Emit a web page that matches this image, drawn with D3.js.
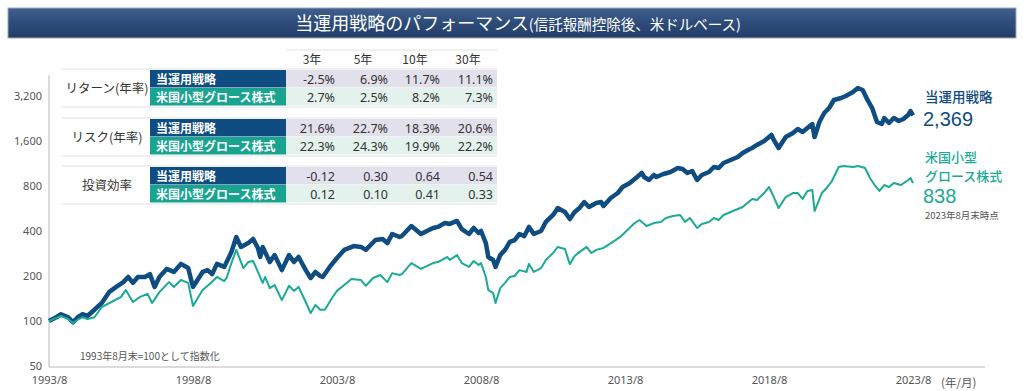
<!DOCTYPE html>
<html><head><meta charset="utf-8">
<script src="https://cdn.jsdelivr.net/npm/d3@7/dist/d3.min.js"></script>
<style>
html,body{margin:0;padding:0;background:#fff;}
svg{display:block;font-family:"Noto Sans CJK JP","Noto Sans",sans-serif;}
</style></head>
<body><svg id="c" width="1024" height="391"></svg>
<script>
// ---------- DATA ----------
const stratDates = ["1993-08","1993-11","1994-01","1994-04","1994-06","1994-08","1994-10","1994-12","1995-03","1995-06","1995-09","1995-12","1996-03","1996-05","1996-07","1996-09","1996-12","1997-02","1997-04","1997-06","1997-09","1997-12","1998-03","1998-06","1998-08","1998-12","1999-02","1999-04","1999-06","1999-09","1999-12","2000-02","2000-04","2000-07","2000-09","2000-11","2000-12","2001-01","2001-04","2001-06","2001-09","2001-12","2002-02","2002-04","2002-07","2002-09","2002-11","2003-01","2003-02","2003-05","2003-08","2003-11","2004-03","2004-06","2004-08","2004-12","2005-03","2005-05","2005-07","2005-10","2005-11","2006-03","2006-07","2006-12","2007-02","2007-05","2007-07","2007-10","2007-12","2008-03","2008-05","2008-07","2008-08","2008-10","2008-11","2009-01","2009-02","2009-04","2009-06","2009-08","2009-10","2009-12","2010-02","2010-04","2010-06","2010-09","2010-11","2011-02","2011-04","2011-07","2011-09","2011-11","2012-01","2012-03","2012-05","2012-08","2012-10","2012-11","2013-02","2013-05","2013-07","2013-10","2014-01","2014-03","2014-04","2014-06","2014-08","2014-09","2014-12","2015-03","2015-06","2015-08","2015-10","2015-12","2016-02","2016-04","2016-07","2016-09","2016-11","2017-01","2017-04","2017-07","2017-09","2017-12","2018-01","2018-03","2018-06","2018-09","2018-10","2018-12","2019-03","2019-06","2019-08","2019-10","2019-12","2020-02","2020-03","2020-05","2020-07","2020-09","2020-11","2021-02","2021-04","2021-07","2021-09","2021-11","2022-01","2022-03","2022-05","2022-07","2022-08","2022-10","2022-12","2023-02","2023-04","2023-06","2023-07","2023-08"];
const stratValues = [100,106,111,106,98,106,111,108,119,132,156,169,182,197,180,197,197,206,169,197,223,213,241,226,169,213,219,206,241,230,289,365,313,332,354,308,268,313,248,276,219,276,248,268,219,194,213,200,197,230,264,299,317,313,299,348,354,332,382,365,370,432,382,419,426,452,446,467,412,382,419,388,400,332,268,256,230,276,299,338,348,382,370,426,382,400,460,512,570,536,481,536,570,625,579,616,625,588,665,718,788,838,919,978,919,878,948,919,962,993,1056,1039,978,1008,878,948,993,1072,1056,1140,1194,1250,1330,1414,1437,1505,1600,1755,1625,1437,1702,1810,1925,1838,1955,2078,1702,2144,2462,2659,3010,3104,3200,3404,3619,3510,3010,2659,2144,2078,2280,2112,2280,2178,2245,2389,2540,2369];

const benchDates = ["1993-08","1993-11","1994-01","1994-04","1994-06","1994-08","1994-10","1994-12","1995-03","1995-06","1995-10","1996-02","1996-04","1996-07","1996-10","1997-01","1997-03","1997-06","1997-10","1997-12","1998-03","1998-06","1998-08","1998-12","1999-03","1999-06","1999-09","1999-10","1999-12","2000-02","2000-04","2000-05","2000-07","2000-09","2000-11","2001-01","2001-02","2001-04","2001-06","2001-09","2001-12","2002-02","2002-04","2002-07","2002-09","2002-11","2003-01","2003-03","2003-06","2003-08","2003-11","2004-02","2004-06","2004-08","2004-11","2005-02","2005-05","2005-07","2005-10","2005-11","2006-03","2006-07","2006-12","2007-02","2007-06","2007-07","2007-10","2007-12","2008-03","2008-05","2008-07","2008-08","2008-10","2008-11","2009-01","2009-02","2009-04","2009-06","2009-08","2009-10","2009-12","2010-03","2010-04","2010-06","2010-09","2010-11","2011-02","2011-04","2011-07","2011-09","2011-11","2012-01","2012-04","2012-06","2012-08","2012-11","2013-03","2013-06","2013-09","2013-12","2014-02","2014-05","2014-08","2014-11","2015-01","2015-04","2015-07","2015-09","2015-11","2016-02","2016-04","2016-07","2016-09","2016-11","2017-01","2017-04","2017-07","2017-09","2017-12","2018-01","2018-03","2018-06","2018-08","2018-10","2018-12","2019-03","2019-06","2019-08","2019-10","2019-12","2020-02","2020-03","2020-06","2020-08","2020-10","2021-01","2021-03","2021-07","2021-09","2021-12","2022-02","2022-04","2022-06","2022-08","2022-10","2022-12","2023-03","2023-06","2023-07","2023-08"];
const benchValues = [100,105,108,103,97,102,106,103,106,124,134,145,161,134,145,152,132,156,182,169,188,180,126,161,177,197,185,194,244,299,248,226,248,252,213,180,197,166,174,138,172,159,169,134,113,128,119,119,143,159,174,191,188,172,194,203,182,209,203,206,244,223,244,248,268,256,276,244,230,252,237,244,197,161,154,132,166,180,197,200,219,213,241,213,226,256,285,313,303,240,272,289,313,285,299,308,338,365,406,452,474,432,452,460,489,504,512,460,489,419,446,460,489,474,512,536,561,579,635,655,645,718,788,675,570,675,718,718,655,741,752,544,718,776,851,1072,1089,1072,1089,1056,905,812,741,812,788,838,812,878,905,838];

const yTicks = [50,100,200,400,800,1600,3200];
const xTickDates = ["1993-08","1998-08","2003-08","2008-08","2013-08","2018-08","2023-08"];
const xTickLabels = ["1993/8","1998/8","2003/8","2008/8","2013/8","2018/8","2023/8"];

const tableCols = ["3年","5年","10年","30年"];
const tableGroups = ["リターン(年率)","リスク(年率)","投資効率"];
const seriesNames = ["当運用戦略","米国小型グロース株式"];
const returnStrat = ["-2.5%","6.9%","11.7%","11.1%"];
const returnBench = ["2.7%","2.5%","8.2%","7.3%"];
const riskStrat = ["21.6%","22.7%","18.3%","20.6%"];
const riskBench = ["22.3%","24.3%","19.9%","22.2%"];
const effStrat = ["-0.12","0.30","0.64","0.54"];
const effBench = ["0.12","0.10","0.41","0.33"];

const endStrat = "2,369";
const endBench = "838";

// ---------- CHART ----------
const svg = d3.select("#c");
const C_DARK = "#0f4c81", C_TEAL = "#1aaa95";
const parse = d3.timeParse("%Y-%m");

// title bar
const defs = svg.append("defs");
const g1 = defs.append("linearGradient").attr("id","tg").attr("x1",0).attr("y1",0).attr("x2",0).attr("y2",1);
g1.append("stop").attr("offset","0%").attr("stop-color","#3f5f8e");
g1.append("stop").attr("offset","50%").attr("stop-color","#2e4c7a");
g1.append("stop").attr("offset","100%").attr("stop-color","#223d66");
svg.append("rect").attr("x",8).attr("y",8).attr("width",1008).attr("height",30)
  .attr("fill","url(#tg)").attr("stroke","#9aa8bd").attr("stroke-width",1);
const tt = svg.append("text").attr("x",518).attr("y",30).attr("text-anchor","middle").attr("fill","#fff");
tt.append("tspan").attr("font-size",18).text("当運用戦略のパフォーマンス");
tt.append("tspan").attr("font-size",14.5).text("(信託報酬控除後、米ドルベース)");

const x = d3.scaleTime().domain([parse("1993-08"), parse("2023-08")]).range([49, 913]);
const y = d3.scaleLog().base(2).domain([50, 6400]).range([366, 51]);

// axes
const yAxis = d3.axisLeft(y).tickValues(yTicks).tickSize(0).tickPadding(7).tickFormat(d3.format(","));
const ya = svg.append("g").attr("transform","translate(49,0)").call(yAxis);
ya.select(".domain").attr("d","M0,75V367").attr("stroke","#b8b8b8");
ya.selectAll("text").attr("font-size",11).attr("fill","#555").attr("font-family","'Noto Sans',sans-serif");

const xAxis = d3.axisBottom(x).tickValues(xTickDates.map(parse)).tickSize(0).tickPadding(9)
  .tickFormat((d,i)=>xTickLabels[i]);
const xa = svg.append("g").attr("transform","translate(0,367)").call(xAxis);
xa.select(".domain").attr("d","M49,0H985").attr("stroke","#b8b8b8");
xa.selectAll("text").attr("font-size",11).attr("fill","#555").attr("font-family","'Noto Sans',sans-serif");
svg.append("text").attr("x",941).attr("y",387).attr("font-size",11.5).attr("fill","#555").text("(年/月)");

// footnote
svg.append("text").attr("x",80).attr("y",360).attr("font-size",10).attr("fill","#555").text("1993年8月末=100として指数化");

// lines
const line = d3.line().x(d=>x(d[0])).y(d=>y(d[1]));
const sData = stratDates.map((d,i)=>[parse(d), stratValues[i]]);
const bData = benchDates.map((d,i)=>[parse(d), benchValues[i]]);
svg.append("path").datum(sData).attr("d",line).attr("fill","none").attr("stroke",C_DARK).attr("stroke-width",4.5).attr("stroke-linejoin","round");
svg.append("path").datum(bData).attr("d",line).attr("fill","none").attr("stroke",C_TEAL).attr("stroke-width",2).attr("stroke-linejoin","round");

// right labels
const NUMF = "'Liberation Sans',Arial,sans-serif";
svg.append("text").attr("x",925).attr("y",102).attr("font-size",13.5).attr("font-weight",500).attr("fill",C_DARK).text(seriesNames[0]);
svg.append("text").attr("x",923).attr("y",126).attr("font-size",20).attr("font-family",NUMF).attr("fill",C_DARK).text(endStrat);
svg.append("text").attr("x",925).attr("y",162).attr("font-size",13).attr("font-weight",500).attr("fill",C_TEAL).text("米国小型");
svg.append("text").attr("x",925).attr("y",181).attr("font-size",13).attr("font-weight",500).attr("fill",C_TEAL).text("グロース株式");
svg.append("text").attr("x",923).attr("y",203).attr("font-size",20).attr("font-family",NUMF).attr("fill",C_TEAL).text(endBench);
svg.append("text").attr("x",925).attr("y",219).attr("font-size",9.5).attr("fill","#555").text("2023年8月末時点");

// table
const colRight = [335,388,440,493];
const colCenter = [312,363,415,468];
const groupTop = [70,119,167];
const rowH = 18;
const groupVals = [[returnStrat,returnBench],[riskStrat,riskBench],[effStrat,effBench]];
const T = svg.append("g");
T.append("line").attr("x1",287).attr("x2",497).attr("y1",50).attr("y2",50).attr("stroke","#e2e2e2");
tableCols.forEach((c,i)=>T.append("text").attr("x",colCenter[i]).attr("y",64).attr("text-anchor","middle")
  .attr("font-size",12).attr("fill","#333").text(c));
tableGroups.forEach((gname,gi)=>{
  const top = groupTop[gi];
  T.append("line").attr("x1",62).attr("x2",497).attr("y1",top-1).attr("y2",top-1).attr("stroke","#e2e2e2");
  T.append("line").attr("x1",62).attr("x2",497).attr("y1",top+2*rowH+1).attr("y2",top+2*rowH+1).attr("stroke","#e2e2e2");
  T.append("text").attr("x",107).attr("y",top+rowH+5).attr("text-anchor","middle").attr("font-size",12.5).attr("fill","#333").text(gname);
  [0,1].forEach(ri=>{
    const yy = top + ri*rowH;
    T.append("rect").attr("x",150).attr("y",yy).attr("width",136).attr("height",rowH-0.5).attr("fill",ri===0?"#0f4c81":"#19a48f");
    T.append("rect").attr("x",286).attr("y",yy).attr("width",211).attr("height",rowH-0.5).attr("fill",ri===0?"#e2e1eb":"#e4f2ee");
    T.append("text").attr("x",156).attr("y",yy+13.5).attr("font-size",12).attr("font-weight",700).attr("fill","#fff").text(seriesNames[ri]);
    groupVals[gi][ri].forEach((v,ci)=>T.append("text").attr("x",colRight[ci]).attr("y",yy+13.5).attr("text-anchor","end")
      .attr("font-size",12.5).attr("fill","#333").attr("font-family","'Noto Sans',sans-serif").text(v));
  });
});
</script></body></html>
